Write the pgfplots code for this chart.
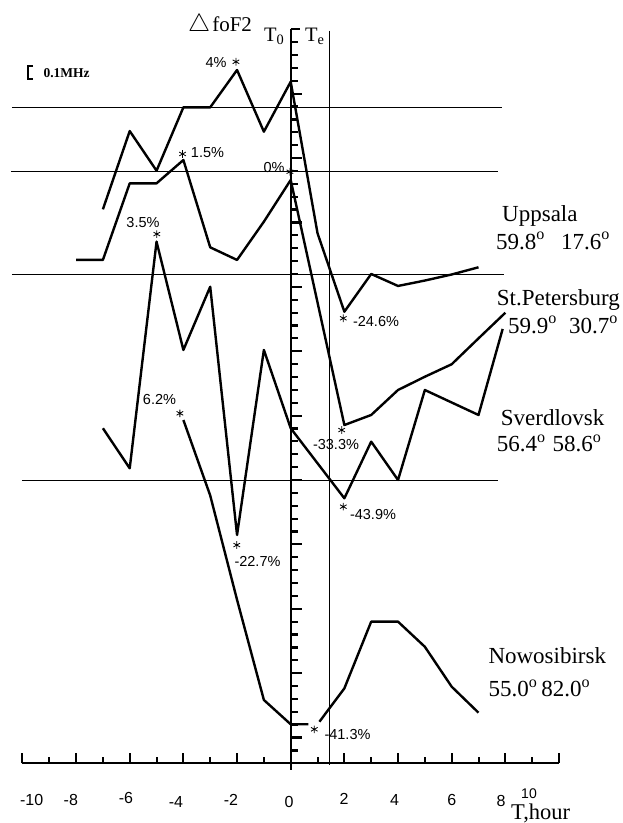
\documentclass[border=0pt]{standalone}
\usepackage{pgfplots}
\pgfplotsset{compat=1.18}
\usepackage{fontspec}
\setmainfont{Liberation Serif}
\newfontfamily\sansf{Liberation Sans}
\begin{document}
\begin{tikzpicture}
\begin{axis}[at={(0pt,0pt)}, anchor=north west, scale only axis,
  width=622pt, height=823pt,
  xmin=-10.835, xmax=12.348, ymin=-4.636, ymax=59.276,
  hide axis, clip=false]
% horizontal reference lines
\addplot[black, line width=0.9pt] coordinates {(-10.39,50.91) (7.88,50.91)};
\addplot[black, line width=0.9pt] coordinates {(-10.43,45.94) (7.73,45.94)};
\addplot[black, line width=0.9pt] coordinates {(-10.39,38.0) (7.95,38.0)};
\addplot[black, line width=0.9pt] coordinates {(-10.02,21.95) (7.73,21.95)};
% Te line
\addplot[black, line width=0.9pt] coordinates {(1.46,56.9) (1.46,-0.1)};
% Uppsala
\addplot[black, line width=2.4pt, line join=round] coordinates {
(-7,43.02) (-6,49.10) (-5,46.02) (-4,50.94) (-3,50.94) (-2,53.84) (-1,49.05) (0,52.93)
(1,41.16) (2,35.07) (3,38.0) (4,37.07) (5,37.49) (6,37.96) (7,38.52)};
% St.Petersburg
\addplot[black, line width=2.4pt, line join=round] coordinates {
(-8,39.09) (-7,39.09) (-6,45.04) (-5,45.04) (-4,46.85) (-3,40.07) (-2,39.09) (-1,42.06) (0,45.30)
(2,26.27) (3,27.05) (4,28.99) (5,30.02) (6,30.99) (7,33.0) (8,34.99)};
% Sverdlovsk
\addplot[black, line width=2.4pt, line join=round] coordinates {
(-7,26.02) (-6,22.91) (-5,40.51) (-4,32.10) (-3,37.01) (-2,17.73) (-1,32.10) (0,26.02)
(2,20.58) (3,24.98) (4,22.0) (5,28.99) (7,27.05) (7.9,33.73)};
% Nowosibirsk
\addplot[black, line width=2.4pt, line join=round] coordinates {
(-4,26.66) (-3,20.8) (-2,12.7) (-1,4.92) (0,3.03) (0.66,3.03)};
\addplot[black, line width=2.4pt, line join=round] coordinates {
(1.07,3.23) (2,5.82) (3,11.0) (4,11.0) (5,9.05) (6,5.95) (7,3.93)};
% extremum markers
\addplot[black, only marks, mark=asterisk, mark size=3.8pt, line width=0.8pt] coordinates {
(-2.04,54.48) (-4.03,47.32) (-0.03,45.94) (-4.99,41.10) (1.96,34.56) (1.90,25.88)
(1.96,19.93) (-4.13,27.18) (-2.01,16.95) (0.88,2.64)};
\end{axis}
\begin{scope}[x=1pt,y=-1pt]
% x axis
\draw[line width=2pt] (22.4,763.3) -- (559.3,763.3);
\foreach \h in {-10,-8,...,10} \draw[line width=2pt] (290.7+26.83*\h,763.3) -- ++(0,-10.6);
\foreach \h in {-9,-7,...,9} \draw[line width=2pt] (290.7+26.83*\h,763.3) -- ++(0,-6);
% y axis
\draw[line width=2pt] (290.7,29.3) -- (290.7,770);
\foreach \k in {1,3,4,5,6,8,9,10,11,13,14,15,16,18,19,20,21,23,24,25,26,28,29,30,31,33,34,35,36,38,39,40,41,43,44,45,46,48,49,50,51,53,54,55,56}
  \draw[line width=2.2pt] (290.7,763.3-12.877*\k) -- ++(7,0);
\foreach \k in {2,7,...,52}
  \draw[line width=2.2pt] (290.7,763.3-12.877*\k) -- ++(11.5,0);
\draw[line width=2.2pt] (290.7,29.3) -- ++(9.3,0);
% scale bar
\draw[line width=2pt] (33,66) -- (27.5,66) -- (27.5,79) -- (33,79);
\node[anchor=base west, inner sep=0, font=\fontsize{13.5}{14}\selectfont\bfseries] at (43.3,77.3) {0.1MHz};
% titles
\node[anchor=base west, inner sep=0] at (188,31.7) {{\fontsize{27}{27}\selectfont$\bigtriangleup$}\hspace{2pt}{\fontsize{21}{21}\selectfont foF2}};
\node[anchor=base west, inner sep=0, font=\fontsize{20.5}{20}\selectfont] at (264,41.5) {T\textsubscript{0}};
\node[anchor=base west, inner sep=0, font=\fontsize{20.5}{20}\selectfont] at (305,41.5) {T\textsubscript{e}};
% percentage labels
\begin{scope}[every node/.style={inner sep=0, font=\sansf\fontsize{14.5}{15}\selectfont}]
\node at (216,63) {4\%};
\node at (207.5,153) {1.5\%};
\node at (274,168) {0\%};
\node at (143,223) {3.5\%};
\node at (376,322) {-24.6\%};
\node at (336,445) {-33.3\%};
\node at (373,515) {-43.9\%};
\node at (159.5,400) {6.2\%};
\node at (257.5,561.7) {-22.7\%};
\node at (347.5,734) {-41.3\%};
\end{scope}
% station labels
\begin{scope}[every node/.style={anchor=base west, inner sep=0, font=\fontsize{23}{24}\selectfont}]
\node at (502,221) {Uppsala};
\node at (496,249) {59.8\textsuperscript{o}\hspace{16pt}17.6\textsuperscript{o}};
\node at (496.7,305) {St.Petersburg};
\node at (508,333) {59.9\textsuperscript{o}\hspace{12pt}30.7\textsuperscript{o}};
\node at (500.7,425) {Sverdlovsk};
\node at (496.7,451.7) {56.4\textsuperscript{o}\hspace{7pt}58.6\textsuperscript{o}};
\node at (488.3,663.3) {Nowosibirsk};
\node at (488.3,696.7) {55.0\textsuperscript{o}\hspace{4pt}82.0\textsuperscript{o}};
\end{scope}
% x tick labels
\begin{scope}[every node/.style={inner sep=0, font=\sansf\fontsize{16}{16}\selectfont}]
\node at (31.7,800) {-10};
\node at (70.8,800) {-8};
\node at (126,798) {-6};
\node at (176,802) {-4};
\node at (231,800) {-2};
\node at (289,801.7) {0};
\node at (344,799) {2};
\node at (394.5,800) {4};
\node at (451.7,800) {6};
\node at (501,801) {8};
\node[font=\sansf\fontsize{14}{14}\selectfont] at (529,794) {10};
\end{scope}
\node[anchor=base west, inner sep=0, font=\fontsize{22.5}{23}\selectfont] at (511,819) {T,hour};
\end{scope}
\pgfresetboundingbox
\path[use as bounding box] (0pt,0pt) rectangle (622pt,-823pt);
\end{tikzpicture}
\end{document}
